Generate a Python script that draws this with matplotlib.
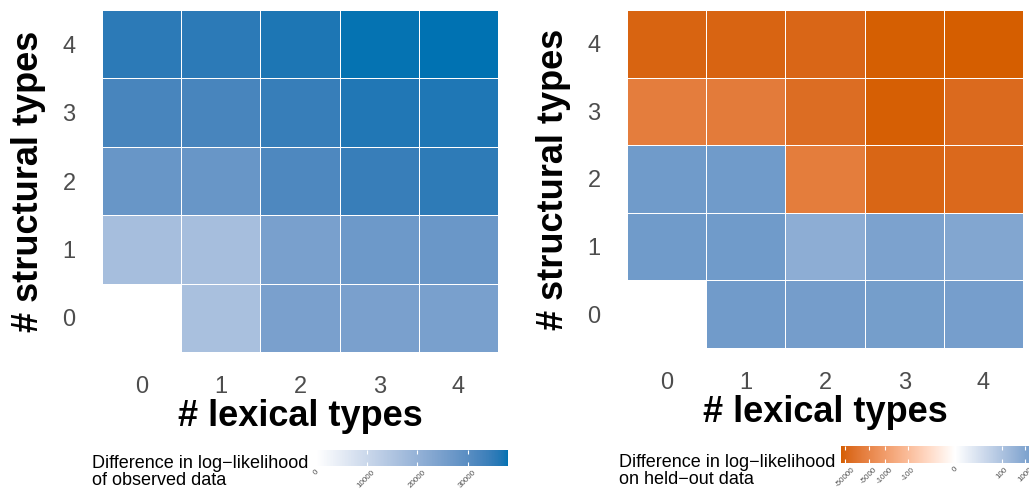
import numpy as np
import matplotlib
matplotlib.use("Agg")
import matplotlib.pyplot as plt
from matplotlib.colors import ListedColormap, FuncNorm, to_rgb

plt.rcParams['font.family'] = ['Liberation Sans', 'DejaVu Sans']

# データ（行 = # structural types 0..4, 列 = # lexical types 0..4）
lexical_types = [0, 1, 2, 3, 4]
structural_types = [0, 1, 2, 3, 4]

observed_diff = np.array([
    [0, 16300, 24700, 24700, 24900],
    [16900, 16900, 24800, 26800, 27400],
    [27700, 27700, 31500, 34400, 35400],
    [32500, 32500, 34500, 36400, 36600],
    [35600, 35600, 36800, 37800, 38000],
])

heldout_diff = np.array([
    [0, 2300, 2000, 1900, 1800],
    [2400, 2400, 560, 1300, 950],
    [2400, 2400, -9000, -45000, -35000],
    [-8700, -10000, -27000, -70000, -33000],
    [-50000, -48000, -42700, -72000, -77000],
])

obs_ticks = [0, 10000, 20000, 30000]
held_ticks = [-50000, -5000, -1000, -100, 0, 100, 1000]

BLUE = '#0072B2'
ORANGE = '#D55E00'
GREY = '#4D4D4D'

_M = np.array([[0.4124, 0.3576, 0.1805],
               [0.2126, 0.7152, 0.0722],
               [0.0193, 0.1192, 0.9505]])
_WHITE = np.array([0.95047, 1.0, 1.08883])


def srgb_to_lab(c):
    c = np.asarray(c, float)
    lin = np.where(c <= 0.04045, c / 12.92, ((c + 0.055) / 1.055) ** 2.4)
    xyz = lin @ _M.T / _WHITE
    f = np.where(xyz > 0.008856, np.cbrt(xyz), 7.787 * xyz + 16 / 116)
    return np.array([116 * f[1] - 16, 500 * (f[0] - f[1]), 200 * (f[1] - f[2])])


def lab_to_srgb(lab):
    fy = (lab[:, 0] + 16) / 116
    f = np.stack([fy + lab[:, 1] / 500, fy, fy - lab[:, 2] / 200], -1)
    xyz = np.where(f > 0.2069, f ** 3, (f - 16 / 116) / 7.787) * _WHITE
    lin = np.clip(xyz @ np.linalg.inv(_M).T, 0, 1)
    return np.clip(np.where(lin <= 0.0031308, 12.92 * lin,
                            1.055 * lin ** (1 / 2.4) - 0.055), 0, 1)


def lab_ramp(c0, c1, n=256):
    a = srgb_to_lab(to_rgb(c0))
    b = srgb_to_lab(to_rgb(c1))
    t = np.linspace(0, 1, n)[:, None]
    return lab_to_srgb(a + (b - a) * t)


cmap_obs = ListedColormap(lab_ramp('white', BLUE))
cmap_held = ListedColormap(np.vstack([lab_ramp(ORANGE, 'white'), lab_ramp('white', BLUE)]))


# pseudo-log 変換 (sigma=1, base=10)
def plog(x):
    return np.arcsinh(np.asarray(x, float) / 2) / np.log(10)


def plog_inv(y):
    return 2 * np.sinh(np.asarray(y, float) * np.log(10))


lim = np.abs(heldout_diff).max()
norm_held = FuncNorm((plog, plog_inv), vmin=-lim, vmax=lim)

fig = plt.figure(figsize=(10.29, 4.92), dpi=100)
W, H = 1029, 492


def px_axes(x0, y0, x1, y1):
    return fig.add_axes([x0 / W, 1 - y1 / H, (x1 - x0) / W, (y1 - y0) / H])


def heatmap(ax, data, **kw):
    edges_x = np.arange(len(lexical_types) + 1) - 0.5
    edges_y = np.arange(len(structural_types) + 1) - 0.5
    mesh = ax.pcolormesh(edges_x, edges_y, data, edgecolors='white', linewidth=0.6, **kw)
    ax.set_xticks(lexical_types)
    ax.set_yticks(structural_types)
    ax.tick_params(length=0, labelsize=17, labelcolor=GREY)
    ax.tick_params(axis='x', pad=17)
    ax.tick_params(axis='y', pad=19)
    for s in ax.spines.values():
        s.set_visible(False)
    ax.set_xlabel('# lexical types', fontsize=26, fontweight='bold', labelpad=1)
    ax.set_ylabel('# structural types', fontsize=26, fontweight='bold', labelpad=12)
    return mesh


def colorbar(mesh, cax, ticks, dmin, dmax):
    cb = fig.colorbar(mesh, cax=cax, orientation='horizontal')
    cb.outline.set_visible(False)
    cax.set_xlim(dmin, dmax)
    cb.set_ticks(ticks)
    cax.set_xticklabels([str(t) for t in ticks], rotation=45, ha='center')
    cax.tick_params(axis='x', direction='in', length=3, width=0.8, color='white',
                    top=True, bottom=True, labelsize=5.8, labelcolor=GREY, pad=2)
    return cb


# 左: 観測データ
ax1 = px_axes(102, 10, 498, 352)
m1 = heatmap(ax1, observed_diff, cmap=cmap_obs, vmin=0, vmax=observed_diff.max())
cax1 = px_axes(316, 450, 508, 466)
colorbar(m1, cax1, obs_ticks, observed_diff.min(), observed_diff.max())
fig.text(92 / W, 1 - 472 / H, 'Difference in log\u2212likelihood\nof observed data',
         fontsize=13, ha='left', va='center', linespacing=0.95)

# 右: held-out データ
ax2 = px_axes(627, 10, 1023, 348)
m2 = heatmap(ax2, heldout_diff, cmap=cmap_held, norm=norm_held)
cax2 = px_axes(841, 446, 1034, 463)
colorbar(m2, cax2, held_ticks, heldout_diff.min(), heldout_diff.max())
fig.text(619 / W, 1 - 471 / H, 'Difference in log\u2212likelihood\non held\u2212out data',
         fontsize=13, ha='left', va='center', linespacing=0.95)

fig.savefig('out.png', dpi=100)
